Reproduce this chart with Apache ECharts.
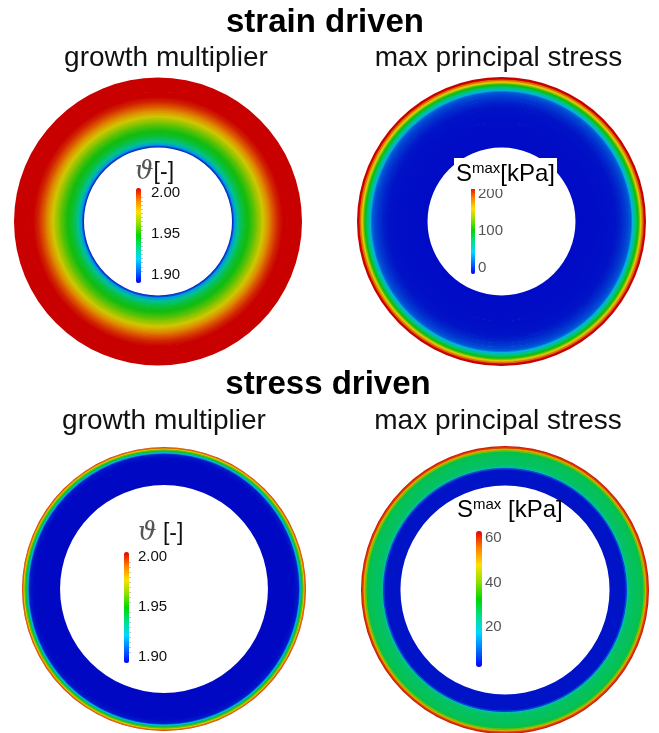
<!DOCTYPE html>
<html><head><meta charset="utf-8">
<script src="https://cdn.jsdelivr.net/npm/echarts@6/dist/echarts.min.js"></script>
<style>html,body{margin:0;padding:0;background:#fff}#c{width:659px;height:733px}</style>
</head><body><div id="c"></div>
<script>
// ---- text ----
const rowTitles = ['strain driven', 'stress driven'];
const panelTitles = ['growth multiplier', 'max principal stress'];

// ---- radial profiles (radius normalised to outer radius = 1) ----
const radiusStrainGrowth = [0.514,0.535,0.556,0.590,0.625,0.660,0.694,0.729,0.764,0.799,0.833,0.868,0.903,1.0];
const valueStrainGrowth  = [1.903,1.922,1.935,1.945,1.950,1.956,1.964,1.973,1.982,1.990,1.996,2.0,2.0,2.0];

const radiusStrainStress = [0.512,0.692,0.782,0.817,0.844,0.872,0.893,0.910,0.927,0.945,0.965,0.979,0.990,1.0];
const valueStrainStress  = [1,2,3,7,12,18,25,50,75,100,150,175,200,205];

const radiusStressGrowth = [0.732,0.915,0.947,0.961,0.972,0.982,0.989,0.995,1.0];
const valueStressGrowth  = [1.900,1.900,1.903,1.925,1.945,1.960,1.975,1.988,1.997];

const radiusStressStress = [0.726,0.833,0.844,0.854,0.868,0.931,0.958,0.969,0.979,0.990,1.0];
const valueStressStress  = [1,1,6,20,24,25,26,36,48,56,60];

// ---- colour-bar tick labels ----
const ticksGrowth = [1.90, 1.95, 2.00];
const ticksStrainStress = [0, 100, 200];
const ticksStressStress = [0, 20, 40, 60];

// ---- colour maps ----
const barColors  = ['#0000ff','#0070ff','#00d8ff','#00e08a','#00d800','#90e000','#ffe000','#ff8000','#e80000'];
const ringColors = ['#0008c4','#0058d8','#00b4d8','#00c47a','#10bc10','#80c400','#dcc800','#e06a00','#c80000'];

const FONT = "'Liberation Sans', Arial, Helvetica, sans-serif";

const panels = [
  { r: radiusStrainGrowth, v: valueStrainGrowth, ticks: ticksGrowth, dec: 2, center: [158, 221.5], radius: 144,
    bar: {left: 136, top: 188, w: 5, h: 95}, axis: {top: 193, h: 82, margin: 10, color: '#111', minor: true, hideMin: false} },
  { r: radiusStrainStress, v: valueStrainStress, ticks: ticksStrainStress, dec: 0, center: [501.5, 221.5], radius: 144.5,
    bar: {left: 471, top: 187, w: 4, h: 87}, axis: {top: 194, h: 74, margin: 3, color: '#555', minor: false, hideMin: false} },
  { r: radiusStressGrowth, v: valueStressGrowth, ticks: ticksGrowth, dec: 2, center: [164, 589], radius: 142,
    bar: {left: 124, top: 552, w: 5, h: 111}, axis: {top: 557, h: 100, margin: 9, color: '#111', minor: true, hideMin: false} },
  { r: radiusStressStress, v: valueStressStress, ticks: ticksStressStress, dec: 0, center: [505, 590], radius: 144,
    bar: {left: 476, top: 531, w: 6, h: 136}, axis: {top: 538, h: 133.5, margin: 3, color: '#555', minor: false, hideMin: true} }
];

function ringItem(params, api) {
  const i = params.dataIndexInside;
  const n = params.dataInsideLength;
  if (i >= n - 1) return null;
  const cs = params.coordSys;
  const p0 = api.coord([api.value(0, i), 0]);
  const p1 = api.coord([api.value(0, i + 1), 0]);
  const r0 = Math.hypot(p0[0] - cs.cx, p0[1] - cs.cy);
  const r1 = Math.hypot(p1[0] - cs.cx, p1[1] - cs.cy);
  const c0 = api.visual('color', i);
  const c1 = api.visual('color', i + 1);
  return {
    type: 'sector', silent: true,
    shape: { cx: cs.cx, cy: cs.cy, r0: i === 0 ? r0 : Math.max(0, r0 - 0.7), r: r1, startAngle: 0, endAngle: Math.PI * 2 },
    style: { fill: { type: 'radial', x: cs.cx, y: cs.cy, r: r1, global: true,
      colorStops: [{ offset: r0 / r1, color: c0 }, { offset: 1, color: c1 }] } }
  };
}

const polar = [], radiusAxis = [], angleAxis = [], grid = [], xAxis = [], yAxis = [], series = [], visualMap = [];
panels.forEach((p, k) => {
  polar.push({ center: p.center, radius: p.radius });
  radiusAxis.push({ polarIndex: k, type: 'value', min: 0, max: 1, show: false });
  angleAxis.push({ polarIndex: k, type: 'value', min: 0, max: 360, show: false });
  series.push({
    type: 'custom', coordinateSystem: 'polar', polarIndex: k, renderItem: ringItem,
    encode: { radius: 0, angle: 1 },
    data: p.r.map((r, j) => [r, 0, p.v[j]])
  });
  const t = p.ticks, mn = t[0], mx = t[t.length - 1];
  visualMap.push({ type: 'continuous', show: false, seriesIndex: k, dimension: 2, min: mn, max: mx,
    inRange: { color: ringColors } });
});
panels.forEach((p, k) => {
  const t = p.ticks, mn = t[0], mx = t[t.length - 1];
  const step = +(t[1] - t[0]).toFixed(6);
  grid.push({ left: p.bar.left + p.bar.w - 1, width: 1, top: p.axis.top, height: p.axis.h });
  xAxis.push({ gridIndex: k, type: 'value', min: 0, max: 1, show: false });
  yAxis.push({ gridIndex: k, type: 'value', position: 'right', min: mn, max: mx, interval: step,
    axisLine: { show: false }, axisTick: { show: false }, splitLine: { show: false },
    minorTick: { show: p.axis.minor, splitNumber: 10, length: 3, lineStyle: { color: '#c8c8c8', width: 1 } },
    axisLabel: { margin: p.axis.margin, fontSize: 15, color: p.axis.color, fontFamily: FONT, showMinLabel: !p.axis.hideMin,
      formatter: v => v.toFixed(p.dec) } });
  series.push({ type: 'line', xAxisIndex: k, yAxisIndex: k, data: [], silent: true });
  visualMap.push({ type: 'continuous', show: true, seriesIndex: 4 + k, min: mn, max: mx, calculable: false,
    orient: 'vertical', left: p.bar.left, top: p.bar.top, itemWidth: p.bar.w, itemHeight: p.bar.h,
    padding: 0, text: null, hoverLink: false, inRange: { color: barColors } });
});

const sub = { fontSize: 28, color: '#111', fontFamily: FONT, fontWeight: 'normal' };
const big = { fontSize: 33, fontWeight: 'bold', color: '#000', fontFamily: FONT };
const titleArr = [
  { text: rowTitles[0], left: 325, textAlign: 'center', top: 6, padding: 0, textStyle: big },
  { text: rowTitles[1], left: 328, textAlign: 'center', top: 368, padding: 0, textStyle: big },
  { text: panelTitles[0], left: 166, textAlign: 'center', top: 44, padding: 0, textStyle: sub },
  { text: panelTitles[1], left: 498.5, textAlign: 'center', top: 44, padding: 0, textStyle: sub },
  { text: panelTitles[0], left: 164, textAlign: 'center', top: 407, padding: 0, textStyle: sub },
  { text: panelTitles[1], left: 498, textAlign: 'center', top: 407, padding: 0, textStyle: sub }
];
const thetaRich = {
  t: { fontFamily: "'DejaVu Serif', 'Liberation Serif', serif", fontStyle: 'italic', fontWeight: 'normal', fontSize: 26, color: '#555', lineHeight: 28 },
  u: { fontFamily: FONT, fontWeight: 'normal', fontSize: 23, color: '#111', lineHeight: 28 }
};
const sRich = {
  s: { fontFamily: FONT, fontWeight: 'normal', fontSize: 24, color: '#000', lineHeight: 26 },
  m: { fontFamily: FONT, fontWeight: 'normal', fontSize: 15, color: '#000', lineHeight: 15, verticalAlign: 'top' },
  u: { fontFamily: FONT, fontWeight: 'normal', fontSize: 24, color: '#000', lineHeight: 26 }
};
titleArr.push({ text: '{t|ϑ}{u|[-]}', left: 135, top: 158.5, padding: 0, textStyle: { fontWeight: 'normal', rich: thetaRich } });
titleArr.push({ text: '{t|ϑ}{u| [-]}', left: 138, top: 519.5, padding: 0, textStyle: { fontWeight: 'normal', rich: thetaRich } });
titleArr.push({ text: '{s|S}{m|max}{u|[kPa]}', left: 454, top: 158, padding: [3, 2, 3, 2], backgroundColor: '#fff', textStyle: { fontWeight: 'normal', rich: sRich } });
titleArr.push({ text: '{s|S}{m|max}{u| [kPa]}', left: 457, top: 497, padding: 0, textStyle: { fontWeight: 'normal', rich: sRich } });

const chart = echarts.init(document.getElementById('c'), null, { renderer: 'canvas' });
chart.setOption({
  backgroundColor: '#fff', animation: false,
  title: titleArr, polar, radiusAxis, angleAxis, grid, xAxis, yAxis, visualMap, series
});
</script></body></html>
